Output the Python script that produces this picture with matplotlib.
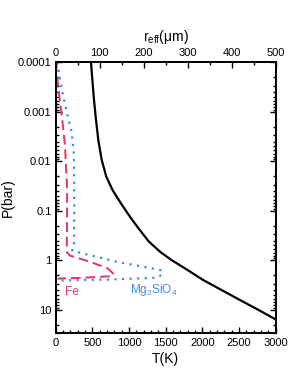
import matplotlib
matplotlib.use("Agg")
import matplotlib.pyplot as plt
from matplotlib.ticker import MultipleLocator, FixedLocator, LogLocator, NullFormatter

plt.rcParams["font.family"] = ["Liberation Sans", "DejaVu Sans"]
plt.rcParams["mathtext.fontset"] = "custom"
plt.rcParams["mathtext.rm"] = "Liberation Sans"
plt.rcParams["mathtext.it"] = "Liberation Sans:italic"

# temperature-pressure profile (bottom axis, K)
tp_pressure = [1e-4, 2.29e-4, 5.75e-4, 1.48e-3, 3.72e-3, 9.33e-3, 0.0204, 0.038,
               0.0708, 0.132, 0.224, 0.417, 0.676, 1.0, 1.51, 2.51, 3.72, 6.31,
               10.0, 15.5]
tp_temp = [481, 500, 522, 550, 581, 627, 690, 775,
           890, 1013, 1127, 1270, 1425, 1585, 1780, 2013, 2225, 2510,
           2763, 2995]

# effective particle radius (top axis, micron)
fe_pressure = [1e-4, 3.4e-4, 1.15e-3, 4.7e-3, 0.035, 0.3, 0.68, 0.80, 1.07,
               1.45, 1.9, 2.1, 2.25, 2.35]
fe_reff = [0, 6, 13.6, 21, 26, 25.5, 25, 32, 78, 118, 132, 124, 63, 4]

mg_pressure = [1e-4, 3.4e-4, 1e-3, 2.5e-3, 7.4e-3, 0.1, 0.54, 0.63, 0.73,
               1.07, 1.35, 1.6, 1.95, 2.25, 2.45, 2.55]
mg_reff = [3.6, 13.6, 25, 36, 41.6, 42, 41.6, 37, 63, 139, 200, 241, 241,
           230, 120, 6]

T_TICKS = [0, 500, 1000, 1500, 2000, 2500, 3000]
P_TICKS = [1e-4, 1e-3, 1e-2, 1e-1, 1, 10]
P_LABELS = ["0.0001", "0.001", "0.01", "0.1", "1", "10"]
R_TICKS = [0, 100, 200, 300, 400, 500]

FE_COLOR = "#e5336a"
MG_COLOR = "#3d8bf2"

fig = plt.figure(figsize=(2.98, 3.85), dpi=100)
ax = fig.add_axes([0.187, 0.134, 0.738, 0.704])

ax.plot(tp_temp, tp_pressure, color="black", lw=1.6)
ax.set_yscale("log")
ax.set_ylim(30, 1e-4)
ax.set_xlim(0, 3000)
ax.set_xticks(T_TICKS)
ax.xaxis.set_minor_locator(MultipleLocator(100))
ax.yaxis.set_major_locator(FixedLocator(P_TICKS))
ax.set_yticklabels(P_LABELS)
ax.yaxis.set_minor_locator(LogLocator(base=10, subs=range(2, 10)))
ax.yaxis.set_minor_formatter(NullFormatter())
ax.set_xlabel("T(K)", fontsize=10, labelpad=3)
ax.set_ylabel("P(bar)", fontsize=10)
ax.yaxis.set_label_coords(-0.185, 0.5)
ax.tick_params(which="both", direction="in", top=False, right=True,
               labelsize=8, width=1, pad=3)
ax.tick_params(which="major", length=4)
ax.tick_params(which="minor", length=2)

ax2 = ax.twiny()
ax2.plot(fe_reff, fe_pressure, color=FE_COLOR, lw=1.4,
         linestyle=(0, (5, 2.5)))
ax2.plot(mg_reff, mg_pressure, color=MG_COLOR, lw=1.6,
         linestyle=(0, (1, 2.4)))
ax2.set_xlim(0, 500)
ax2.set_xticks(R_TICKS)
ax2.xaxis.set_minor_locator(MultipleLocator(50))
ax2.set_xlabel(r"r$_{\rm eff}$(μm)", fontsize=10, labelpad=5)
ax2.tick_params(which="both", direction="in", labelsize=8, width=1, pad=3)
ax2.tick_params(which="major", length=4)
ax2.tick_params(which="minor", length=2)

for a in (ax, ax2):
    for s in a.spines.values():
        s.set_linewidth(1.3)

ax.text(0.042, 0.152, "Fe", transform=ax.transAxes, color=FE_COLOR,
        fontsize=8.5, va="center", ha="left")
ax.text(0.336, 0.16, r"Mg$_2$SiO$_4$", transform=ax.transAxes, color=MG_COLOR,
        fontsize=8.5, va="center", ha="left")

fig.savefig("out.png", dpi=100)
